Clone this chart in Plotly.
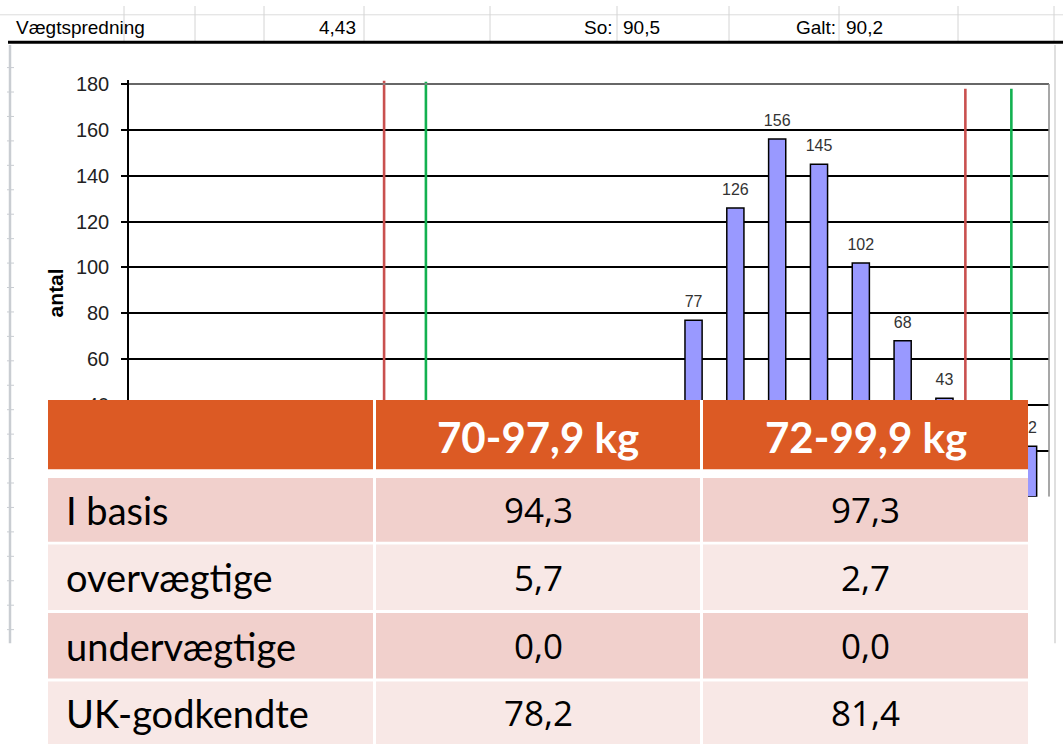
import plotly.graph_objects as go

# ---------------- data ----------------
bin_centers = [59, 61, 63, 65, 67, 69, 71, 73, 75, 77, 79, 81, 83, 85, 87, 89, 91, 93, 95, 97, 99, 101]
counts      = [0, 0, 0, 0, 0, 0, 0, 0, 0, 1, 4, 12, 28, 77, 126, 156, 145, 102, 68, 43, 28, 22]

red_limits   = [70.2, 98.0]
red_tops     = [181.5, 178.0]
green_limits = [72.2, 100.2]
green_tops   = [181.0, 178.0]

y_ticks = [0, 20, 40, 60, 80, 100, 120, 140, 160, 180]

header_cells = ["Vægtspredning", "4,43", "So:", "90,5", "Galt:", "90,2"]

table_cols   = ["", "70-97,9 kg", "72-99,9 kg"]
table_rows   = ["I basis", "overvægtige", "undervægtige", "UK-godkendte"]
col_7097     = ["94,3", "5,7", "0,0", "78,2"]
col_7299     = ["97,3", "2,7", "0,0", "81,4"]

W, H = 1063, 755
def X(px): return px / W
def Y(py): return 1 - py / H

fig = go.Figure()

# bars
fig.add_trace(go.Bar(
    x=bin_centers, y=counts, width=0.82,
    marker=dict(color="#9999FF", line=dict(color="#000000", width=1.5)),
    showlegend=False, hoverinfo="skip",
))
# data labels (invisible markers push text up)
fig.add_trace(go.Scatter(
    x=bin_centers, y=counts, mode="markers+text",
    text=[str(v) if v else "" for v in counts],
    textposition="top center",
    marker=dict(size=13, opacity=0),
    textfont=dict(family="Arial, Liberation Sans", size=16, color="#333333"),
    showlegend=False, hoverinfo="skip", cliponaxis=False,
))
# limit lines
for xs, tops, col in [(red_limits, red_tops, "#C9504F"), (green_limits, green_tops, "#12B150")]:
    for xv, tv in zip(xs, tops):
        fig.add_trace(go.Scatter(
            x=[xv, xv], y=[0, tv], mode="lines",
            line=dict(color=col, width=2.6),
            showlegend=False, hoverinfo="skip",
        ))

shapes = []
annotations = []

# plot area border (top, right)
shapes.append(dict(type="line", xref="x", yref="y", x0=58, x1=102, y0=180, y1=180,
                   line=dict(color="#8a8a8a", width=1.5), layer="above"))
shapes.append(dict(type="line", xref="paper", yref="y", x0=X(1049), x1=X(1049), y0=0, y1=180,
                   line=dict(color="#8a8a8a", width=1.5), layer="above"))

# ---------- spreadsheet decorations ----------
shapes.append(dict(type="line", xref="paper", yref="paper", x0=0, x1=1, y0=Y(9), y1=Y(9),
                   line=dict(color="#dcdcdc", width=1), layer="above"))
for bx in [124, 195, 264, 364, 490, 617, 729, 839, 958, 1054]:
    shapes.append(dict(type="line", xref="paper", yref="paper", x0=X(bx), x1=X(bx), y0=Y(0), y1=Y(36),
                       line=dict(color="#d4d4d4", width=1), layer="above"))
shapes.append(dict(type="line", xref="paper", yref="paper", x0=X(8), x1=1, y0=Y(37), y1=Y(37),
                   line=dict(color="#000000", width=3), layer="above"))
shapes.append(dict(type="line", xref="paper", yref="paper", x0=X(10), x1=X(10), y0=Y(40), y1=Y(652),
                   line=dict(color="#c9cdd2", width=2.5), layer="above"))
for k in range(24):
    ty = 63 + 25 * k
    if ty > 650:
        break
    shapes.append(dict(type="line", xref="paper", yref="paper", x0=X(7), x1=X(14), y0=Y(ty), y1=Y(ty),
                       line=dict(color="#c9cdd2", width=1), layer="above"))
shapes.append(dict(type="line", xref="paper", yref="paper", x0=X(1055), x1=X(1055), y0=Y(40), y1=Y(652),
                   line=dict(color="#d4d4d4", width=1.5), layer="above"))

hdr_font = dict(family="Arial, Liberation Sans", size=19, color="#000000")
hdr_pos = [(14, "left"), (358, "right"), (615, "right"), (621, "left"), (838, "right"), (844, "left")]
for txt, (hx, anc) in zip(header_cells, hdr_pos):
    annotations.append(dict(text=txt, xref="paper", yref="paper", x=X(hx), y=Y(22),
                            xanchor=anc, yanchor="middle", showarrow=False, font=hdr_font))

# y axis title
annotations.append(dict(text="<b>antal</b>", xref="paper", yref="paper", x=X(55), y=Y(294),
                        textangle=-90, showarrow=False, xanchor="center", yanchor="middle",
                        font=dict(family="Arial, Liberation Sans", size=21, color="#000000")))

# ---------- table overlay ----------
col_x = [(48, 373), (376, 700), (703, 1028)]
row_y = [(403, 474), (483, 548), (551, 618), (621, 688), (691, 755)]
orange = "#DC5A24"
pinks = ["#F1D0CC", "#F8E8E6", "#F1D0CC", "#F8E8E6"]

# white backing of the pasted table
shapes.append(dict(type="rect", xref="paper", yref="paper", x0=X(col_x[0][0]), x1=X(col_x[2][1]),
                   y0=0, y1=Y(row_y[0][0]), fillcolor="#FFFFFF", line=dict(width=0), layer="above"))

for ci, (x0, x1) in enumerate(col_x):
    shapes.append(dict(type="rect", xref="paper", yref="paper", x0=X(x0), x1=X(x1),
                       y0=Y(row_y[0][1]), y1=Y(row_y[0][0]), fillcolor=orange,
                       line=dict(width=0), layer="above"))
    if table_cols[ci]:
        annotations.append(dict(text="<b>" + table_cols[ci] + "</b>", xref="paper", yref="paper",
                                x=X((x0 + x1) / 2), y=Y(441), xanchor="center", yanchor="middle",
                                showarrow=False,
                                font=dict(family="Lato, Open Sans", size=42, color="#FFFFFF")))
    for ri in range(4):
        y0, y1 = row_y[ri + 1]
        shapes.append(dict(type="rect", xref="paper", yref="paper", x0=X(x0), x1=X(x1),
                           y0=Y(y1), y1=Y(y0), fillcolor=pinks[ri],
                           line=dict(width=0), layer="above"))

label_font = dict(family="Lato, Open Sans", size=38, color="#000000")
num_font = dict(family="Open Sans, Lato", size=35, color="#000000")
for ri, (lab, a, b) in enumerate(zip(table_rows, col_7097, col_7299)):
    y0, y1 = row_y[ri + 1]
    yc = Y((y0 + y1) / 2)
    annotations.append(dict(text=lab, xref="paper", yref="paper", x=X(64), y=yc,
                            xanchor="left", yanchor="middle", showarrow=False, font=label_font))
    annotations.append(dict(text=a, xref="paper", yref="paper", x=X((col_x[1][0] + col_x[1][1]) / 2), y=yc,
                            xanchor="center", yanchor="middle", showarrow=False, font=num_font))
    annotations.append(dict(text=b, xref="paper", yref="paper", x=X((col_x[2][0] + col_x[2][1]) / 2), y=yc,
                            xanchor="center", yanchor="middle", showarrow=False, font=num_font))

fig.update_layout(
    width=W, height=H,
    margin=dict(l=0, r=0, t=0, b=0),
    paper_bgcolor="#FFFFFF", plot_bgcolor="#FFFFFF",
    showlegend=False,
    bargap=0.6,
    shapes=shapes, annotations=annotations,
    xaxis=dict(domain=[X(129), X(1049)], range=[58, 102], showticklabels=False,
               showgrid=False, zeroline=False, showline=False, ticks=""),
    yaxis=dict(domain=[Y(502), Y(75.2)], range=[0, 182], tickvals=y_ticks,
               showgrid=True, gridcolor="#000000", gridwidth=1.5,
               zeroline=False, showline=True, linecolor="#000000", linewidth=1.5,
               ticks="outside", ticklen=6, tickwidth=1.5, tickcolor="#000000",
               ticklabelstandoff=8,
               tickfont=dict(family="Arial, Liberation Sans", size=20, color="#222222")),
)

post = (
    "var de=document.documentElement, b=document.body;"
    "de.style.margin='0';de.style.padding='0';de.style.overflow='hidden';"
    "b.style.margin='0';b.style.padding='0';b.style.overflow='hidden';"
    "var d=document.getElementById('{plot_id}');"
    "d.style.position='fixed';d.style.top='0px';d.style.left='0px';"
)
fig.write_html("out.html", config={"displayModeBar": False}, post_script=post)
